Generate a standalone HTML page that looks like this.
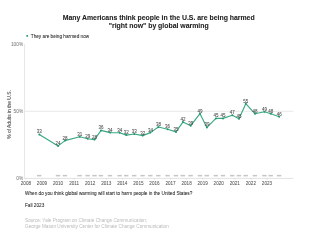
<!DOCTYPE html>
<html><head><meta charset="utf-8"><style>
html,body{margin:0;padding:0;background:#fff;width:300px;height:235px;overflow:hidden}
svg{position:absolute;left:0;top:0;display:block}
text{font-family:"Liberation Sans",sans-serif}
svg{will-change:transform}
</style></head><body>
<svg width="300" height="235" viewBox="0 0 300 235">
<g font-weight="bold" font-size="6.9" fill="#222" stroke="#222" stroke-width="0.08" text-anchor="middle">
<text x="158.7" y="20.4">Many Americans think people in the U.S. are being harmed</text>
<text x="158.7" y="28.1">"right now" by global warming</text>
</g>
<rect x="26.3" y="34.9" width="1.8" height="1.8" rx="0.5" fill="#2a9d6f"/>
<text x="30.8" y="37.7" font-size="4.7" fill="#222" stroke="#222" stroke-width="0.05">They are being harmed now</text>
<g font-size="4.8" fill="#777" stroke="#777" stroke-width="0.03" text-anchor="end">
<text x="23.2" y="45.5">100%</text>
<text x="23.2" y="112.7">50%</text>
<text x="23.2" y="180">0%</text>
</g>
<text transform="translate(10.8,114.5) rotate(-90)" font-size="4.9" fill="#555" stroke="#555" stroke-width="0.1" text-anchor="middle">% of Adults in the U.S.</text>
<line x1="24.6" y1="43.8" x2="24.6" y2="178.5" stroke="#d4d4d4" stroke-width="0.6"/>
<line x1="24.6" y1="111.3" x2="293.3" y2="111.3" stroke="#d8d8d8" stroke-width="0.6"/>
<line x1="24.6" y1="178.4" x2="293.3" y2="178.4" stroke="#ccc" stroke-width="0.6"/>
<g stroke="#bbb" stroke-width="0.5"><line x1="25.90" y1="178.5" x2="25.90" y2="179.6"/><line x1="41.97" y1="178.5" x2="41.97" y2="179.6"/><line x1="58.04" y1="178.5" x2="58.04" y2="179.6"/><line x1="74.11" y1="178.5" x2="74.11" y2="179.6"/><line x1="90.18" y1="178.5" x2="90.18" y2="179.6"/><line x1="106.25" y1="178.5" x2="106.25" y2="179.6"/><line x1="122.32" y1="178.5" x2="122.32" y2="179.6"/><line x1="138.39" y1="178.5" x2="138.39" y2="179.6"/><line x1="154.46" y1="178.5" x2="154.46" y2="179.6"/><line x1="170.53" y1="178.5" x2="170.53" y2="179.6"/><line x1="186.60" y1="178.5" x2="186.60" y2="179.6"/><line x1="202.67" y1="178.5" x2="202.67" y2="179.6"/><line x1="218.74" y1="178.5" x2="218.74" y2="179.6"/><line x1="234.81" y1="178.5" x2="234.81" y2="179.6"/><line x1="250.88" y1="178.5" x2="250.88" y2="179.6"/><line x1="266.95" y1="178.5" x2="266.95" y2="179.6"/></g>
<g font-size="4.6" fill="#555" stroke="#555" stroke-width="0.05" text-anchor="middle"><text x="25.90" y="185.2">2008</text><text x="41.97" y="185.2">2009</text><text x="58.04" y="185.2">2010</text><text x="74.11" y="185.2">2011</text><text x="90.18" y="185.2">2012</text><text x="106.25" y="185.2">2013</text><text x="122.32" y="185.2">2014</text><text x="138.39" y="185.2">2015</text><text x="154.46" y="185.2">2016</text><text x="170.53" y="185.2">2017</text><text x="186.60" y="185.2">2018</text><text x="202.67" y="185.2">2019</text><text x="218.74" y="185.2">2020</text><text x="234.81" y="185.2">2021</text><text x="250.88" y="185.2">2022</text><text x="266.95" y="185.2">2023</text></g>
<g fill="#c6c6c6"><rect x="37.00" y="174.9" width="4.4" height="1.5"/><rect x="55.80" y="174.9" width="4.4" height="1.5"/><rect x="62.70" y="174.9" width="4.4" height="1.5"/><rect x="77.40" y="174.9" width="4.4" height="1.5"/><rect x="85.40" y="174.9" width="4.4" height="1.5"/><rect x="92.30" y="174.9" width="4.4" height="1.5"/><rect x="98.70" y="174.9" width="4.4" height="1.5"/><rect x="107.80" y="174.9" width="4.4" height="1.5"/><rect x="117.40" y="174.9" width="4.4" height="1.5"/><rect x="124.00" y="174.9" width="4.4" height="1.5"/><rect x="132.00" y="174.9" width="4.4" height="1.5"/><rect x="140.40" y="174.9" width="4.4" height="1.5"/><rect x="148.10" y="174.9" width="4.4" height="1.5"/><rect x="156.10" y="174.9" width="4.4" height="1.5"/><rect x="165.30" y="174.9" width="4.4" height="1.5"/><rect x="173.70" y="174.9" width="4.4" height="1.5"/><rect x="180.60" y="174.9" width="4.4" height="1.5"/><rect x="188.40" y="174.9" width="4.4" height="1.5"/><rect x="197.70" y="174.9" width="4.4" height="1.5"/><rect x="204.60" y="174.9" width="4.4" height="1.5"/><rect x="213.60" y="174.9" width="4.4" height="1.5"/><rect x="220.70" y="174.9" width="4.4" height="1.5"/><rect x="230.00" y="174.9" width="4.4" height="1.5"/><rect x="236.70" y="174.9" width="4.4" height="1.5"/><rect x="243.50" y="174.9" width="4.4" height="1.5"/><rect x="252.70" y="174.9" width="4.4" height="1.5"/><rect x="262.20" y="174.9" width="4.4" height="1.5"/><rect x="268.50" y="174.9" width="4.4" height="1.5"/><rect x="276.90" y="174.9" width="4.4" height="1.5"/></g>
<polyline points="39.30,134.40 58.10,145.90 65.00,140.60 79.70,136.70 87.70,138.70 94.60,139.60 101.00,130.40 110.10,132.60 119.70,132.70 126.30,135.10 134.30,134.00 142.70,135.60 150.40,132.60 158.40,127.00 167.60,129.30 176.00,131.90 182.90,122.10 190.70,125.70 200.00,113.70 206.90,127.40 215.90,118.40 223.00,118.40 232.30,115.30 239.00,118.70 245.80,103.70 255.00,113.80 264.50,111.70 270.80,113.70 279.20,116.70" fill="none" stroke="#3aa985" stroke-width="1.15" stroke-linejoin="round"/>
<g fill="#23976a"><circle cx="39.30" cy="134.40" r="1.0"/><circle cx="58.10" cy="145.90" r="1.0"/><circle cx="65.00" cy="140.60" r="1.0"/><circle cx="79.70" cy="136.70" r="1.0"/><circle cx="87.70" cy="138.70" r="1.0"/><circle cx="94.60" cy="139.60" r="1.0"/><circle cx="101.00" cy="130.40" r="1.0"/><circle cx="110.10" cy="132.60" r="1.0"/><circle cx="119.70" cy="132.70" r="1.0"/><circle cx="126.30" cy="135.10" r="1.0"/><circle cx="134.30" cy="134.00" r="1.0"/><circle cx="142.70" cy="135.60" r="1.0"/><circle cx="150.40" cy="132.60" r="1.0"/><circle cx="158.40" cy="127.00" r="1.0"/><circle cx="167.60" cy="129.30" r="1.0"/><circle cx="176.00" cy="131.90" r="1.0"/><circle cx="182.90" cy="122.10" r="1.0"/><circle cx="190.70" cy="125.70" r="1.0"/><circle cx="200.00" cy="113.70" r="1.0"/><circle cx="206.90" cy="127.40" r="1.0"/><circle cx="215.90" cy="118.40" r="1.0"/><circle cx="223.00" cy="118.40" r="1.0"/><circle cx="232.30" cy="115.30" r="1.0"/><circle cx="239.00" cy="118.70" r="1.0"/><circle cx="245.80" cy="103.70" r="1.0"/><circle cx="255.00" cy="113.80" r="1.0"/><circle cx="264.50" cy="111.70" r="1.0"/><circle cx="270.80" cy="113.70" r="1.0"/><circle cx="279.20" cy="116.70" r="1.0"/></g>
<g font-size="4.5" fill="#444" stroke="#444" stroke-width="0.05" text-anchor="middle"><text x="39.30" y="133.30">33</text><text x="58.10" y="144.80">24</text><text x="65.00" y="139.50">28</text><text x="79.70" y="135.60">31</text><text x="87.70" y="137.60">29</text><text x="94.60" y="138.50">28</text><text x="101.00" y="129.30">36</text><text x="110.10" y="131.50">34</text><text x="119.70" y="131.60">34</text><text x="126.30" y="134.00">32</text><text x="134.30" y="132.90">33</text><text x="142.70" y="134.50">32</text><text x="150.40" y="131.50">34</text><text x="158.40" y="125.90">38</text><text x="167.60" y="128.20">36</text><text x="176.00" y="130.80">35</text><text x="182.90" y="121.00">42</text><text x="190.70" y="124.60">39</text><text x="200.00" y="112.60">49</text><text x="206.90" y="126.30">39</text><text x="215.90" y="117.30">45</text><text x="223.00" y="117.30">45</text><text x="232.30" y="114.20">47</text><text x="239.00" y="117.60">45</text><text x="245.80" y="102.60">55</text><text x="255.00" y="112.70">48</text><text x="264.50" y="110.60">49</text><text x="270.80" y="112.60">48</text><text x="279.20" y="115.60">46</text></g>
<g font-size="4.7" fill="#222" stroke="#222" stroke-width="0.05">
<text x="25" y="195.0">When do you think global warming will start to harm people in the United States?</text>
<text x="25" y="206.8">Fall 2023</text>
</g>
<g font-size="4.7" fill="#bdbdbd" stroke="#bdbdbd" stroke-width="0.03">
<text x="25" y="221.9">Source: Yale Program on Climate Change Communication;</text>
<text x="25" y="227.9">George Mason University Center for Climate Change Communication</text>
</g>
</svg>
</body></html>
